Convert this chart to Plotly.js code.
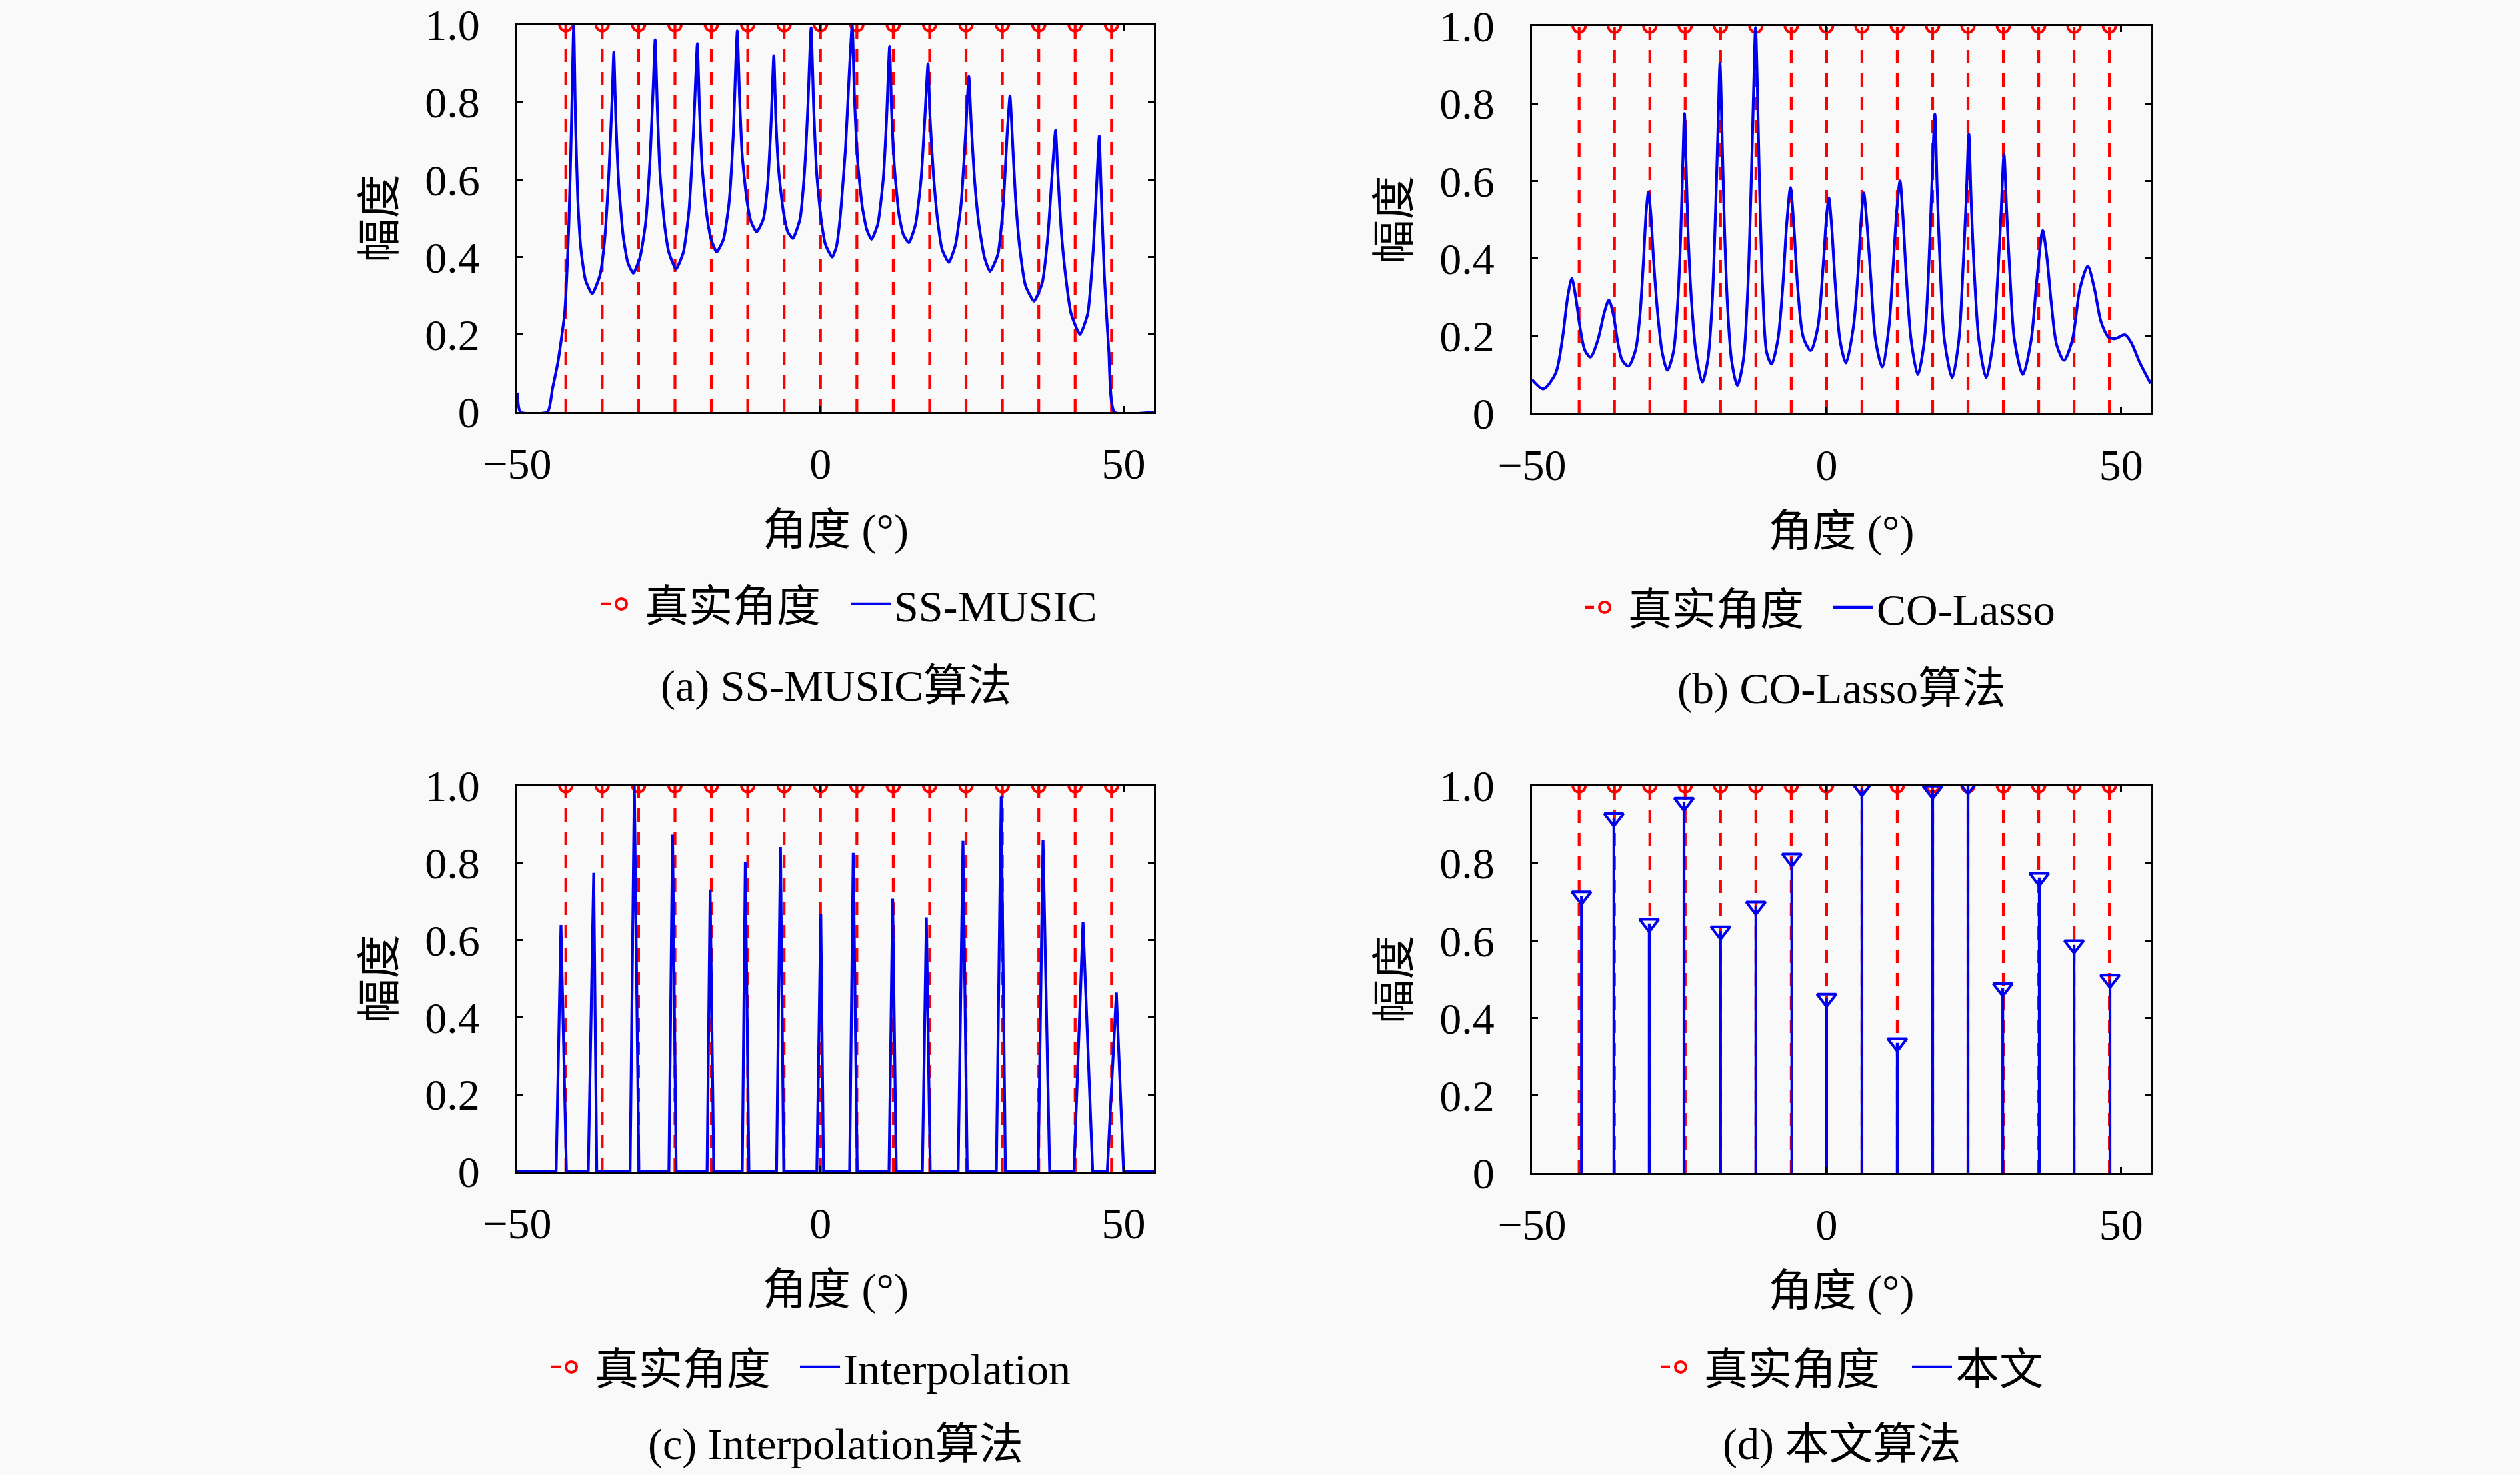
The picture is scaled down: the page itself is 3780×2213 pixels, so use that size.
<!DOCTYPE html>
<html>
<head>
<meta charset="utf-8">
<script src="https://cdn.plot.ly/plotly-3.0.1.min.js"></script>
<style>
  html, body { margin: 0; padding: 0; background: #f9f9f9; }
  #graph { width: 3780px; height: 2213px; }
</style>
</head>
<body>
<div id="graph"></div>
<script>
// true source directions (deg)
var trueAngles = [-42, -36, -30, -24, -18, -12, -6, 0, 6, 12, 18, 24, 30, 36, 42, 48];

// (a) SS-MUSIC spectrum
var musicX = [-50, -49.5, -45, -44.2, -43.3, -42.2, -41.5, -41.06, -40.7, -40.4, -40.03, -39.5, -38.75, -37.65,
  -36.37, -35.63, -34.9, -34.35, -34.09, -33.73, -33.25, -32.52, -31.78, -30.87,
  -29.77, -28.86, -28.12, -27.57, -27.27, -26.9, -26.47, -25.73, -25.0, -23.83,
  -22.62, -21.7, -20.97, -20.53, -20.31, -19.95, -19.5, -18.77, -18.04, -17.12,
  -16.0, -15.1, -14.38, -13.94, -13.72, -13.35, -12.91, -12.18, -11.45, -10.53,
  -9.43, -8.7, -8.14, -7.7, -7.34, -6.86, -6.13, -5.39, -4.55,
  -3.38, -2.65, -2.1, -1.55, -1.11, -0.63, 0.1, 0.83, 1.93,
  2.6, 3.22, 4.13, 4.76, 5.23, 5.6, 6.15, 6.88, 7.61, 8.42,
  9.45, 10.36, 10.91, 11.39, 11.72, 12.2, 12.93, 13.66, 14.58,
  15.68, 16.6, 17.22, 17.73, 18.06, 18.61, 19.35, 20.07, 21.17,
  22.27, 23.19, 23.92, 24.47, 24.84, 25.39, 26.12, 27.04, 27.96,
  29.24, 30.15, 30.78, 31.25, 31.62, 32.17, 32.9, 33.82, 35.21,
  36.57, 37.49, 38.22, 38.77, 39.14, 39.69, 40.42, 41.33, 42.8,
  44.08, 44.99, 45.54, 45.98, 46.27, 46.82, 47.56, 48.48, 55];
var musicY = [0.05, 0, 0, 0.06, 0.129, 0.254, 0.485, 0.749, 1.0, 0.749, 0.551, 0.419, 0.340, 0.305,
  0.353, 0.439, 0.617, 0.814, 0.928, 0.748, 0.583, 0.452, 0.386, 0.358,
  0.399, 0.485, 0.649, 0.847, 0.961, 0.781, 0.617, 0.485, 0.412, 0.369,
  0.412, 0.518, 0.716, 0.880, 0.951, 0.781, 0.630, 0.511, 0.446, 0.413,
  0.446, 0.537, 0.716, 0.913, 0.984, 0.814, 0.663, 0.551, 0.491, 0.465,
  0.498, 0.590, 0.749, 0.920, 0.749, 0.617, 0.518, 0.465, 0.448,
  0.498, 0.617, 0.781, 0.992, 0.781, 0.617, 0.498, 0.432, 0.400,
  0.425, 0.498, 0.682, 0.880, 1.0, 0.814, 0.643, 0.531, 0.472, 0.446,
  0.485, 0.603, 0.762, 0.943, 0.781, 0.630, 0.511, 0.458, 0.437,
  0.485, 0.603, 0.762, 0.899, 0.762, 0.617, 0.491, 0.419, 0.386,
  0.432, 0.537, 0.716, 0.866, 0.749, 0.603, 0.485, 0.399, 0.363,
  0.406, 0.537, 0.716, 0.816, 0.716, 0.551, 0.419, 0.326, 0.286,
  0.333, 0.452, 0.617, 0.727, 0.617, 0.472, 0.353, 0.254, 0.200,
  0.254, 0.419, 0.583, 0.712, 0.583, 0.353, 0.155, 0, 0];

// (b) CO-Lasso spectrum
var lassoX = [-50, -48.08, -46.0, -44.87, -43.93, -43.25, -42.6, -41.85, -41.03, -40.08,
  -38.83, -37.7, -36.95, -36.2, -35.44, -34.69, -33.63,
  -32.43, -31.67, -31.1, -30.62, -30.24, -29.86, -29.33, -28.65, -27.9, -27.03,
  -26.01, -25.26, -24.77, -24.39, -24.12, -23.86, -23.48, -22.92, -22.17, -21.1,
  -20.16, -19.41, -18.85, -18.4, -18.09, -17.79, -17.41, -16.85, -16.13, -15.15,
  -14.13, -13.37, -12.81, -12.36, -12.06, -11.76, -11.38, -10.85, -10.17, -9.34,
  -8.28, -7.46, -6.78, -6.13, -5.57, -4.89, -3.95, -2.7,
  -1.49, -0.55, 0.01, 0.39, 0.84, 1.52, 2.27, 3.28,
  4.54, 5.3, 5.86, 6.31, 6.8, 7.48, 8.31, 9.44,
  10.57, 11.33, 11.89, 12.46, 12.91, 13.52, 14.35, 15.48,
  16.61, 17.37, 17.86, 18.38, 18.76, 19.25, 20.0, 21.32,
  22.45, 23.2, 23.7, 24.15, 24.53, 25.1, 25.85, 27.09,
  28.3, 29.06, 29.62, 30.11, 30.57, 31.13, 31.89, 33.31,
  34.72, 35.66, 36.68, 37.36, 38.12, 39.06, 40.3,
  41.7, 43.0, 44.33, 45.46, 46.59, 47.91, 49.04, 50.62, 51.69, 53.19, 55];
var lassoY = [0.087, 0.063, 0.103, 0.189, 0.302, 0.348, 0.302, 0.222, 0.163, 0.145,
  0.189, 0.262, 0.292, 0.255, 0.183, 0.137, 0.122,
  0.163, 0.255, 0.388, 0.520, 0.571, 0.520, 0.388, 0.255, 0.157, 0.111,
  0.157, 0.288, 0.454, 0.652, 0.774, 0.652, 0.454, 0.288, 0.157, 0.080,
  0.137, 0.288, 0.520, 0.751, 0.903, 0.751, 0.520, 0.288, 0.137, 0.072,
  0.137, 0.322, 0.586, 0.850, 0.996, 0.850, 0.586, 0.322, 0.157, 0.127,
  0.189, 0.322, 0.487, 0.583, 0.487, 0.322, 0.196, 0.162,
  0.222, 0.388, 0.513, 0.556, 0.487, 0.322, 0.189, 0.130,
  0.222, 0.355, 0.500, 0.569, 0.500, 0.355, 0.189, 0.120,
  0.222, 0.388, 0.520, 0.600, 0.520, 0.355, 0.189, 0.100,
  0.189, 0.388, 0.586, 0.772, 0.586, 0.388, 0.189, 0.092,
  0.189, 0.388, 0.553, 0.721, 0.553, 0.355, 0.189, 0.092,
  0.189, 0.355, 0.520, 0.668, 0.520, 0.355, 0.189, 0.100,
  0.189, 0.341, 0.472, 0.407, 0.288, 0.176, 0.137,
  0.189, 0.322, 0.380, 0.322, 0.236, 0.196, 0.193, 0.203, 0.183, 0.130, 0.077];

// (c) Interpolation spectrum: narrow spikes on a zero floor
var interpX = [-50, -43.6, -42.8, -41.9, -38.3, -37.4, -36.9, -31.4, -30.7, -29.95,
  -25.0, -24.4, -23.8, -18.7, -18.2, -17.6, -12.9, -12.4, -11.8, -7.25, -6.6, -6.06,
  -0.6, 0.05, 0.5, 4.8, 5.4, 6.06, 11.3, 11.9, 12.5, 16.8, 17.46, 18.1,
  22.7, 23.5, 24.2, 29.0, 29.8, 30.5, 35.9, 36.7, 37.8, 41.8, 43.3, 44.9,
  47.3, 48.8, 50.0, 55];
var interpY = [0, 0, 0.639, 0, 0, 0.774, 0, 0, 1.0, 0,
  0, 0.873, 0, 0, 0.731, 0, 0, 0.802, 0, 0, 0.841, 0,
  0, 0.667, 0, 0, 0.826, 0, 0, 0.707, 0, 0, 0.659, 0,
  0, 0.857, 0, 0, 0.972, 0, 0, 0.860, 0, 0, 0.647, 0,
  0, 0.464, 0, 0];

// (d) proposed method: estimated angles and amplitudes
var oursX = [-41.6, -36.1, -30.1, -24.2, -18, -12, -5.9, 0, 6, 12, 18, 24, 29.9, 36.1, 42, 48.1];
var oursY = [0.715, 0.917, 0.644, 0.957, 0.625, 0.689, 0.813, 0.451, 0.995, 0.336, 0.988, 1.0, 0.478, 0.763, 0.589, 0.500];

var yTicks = [0, 0.2, 0.4, 0.6, 0.8, 1.0];
var yTickText = ['0', '0.2', '0.4', '0.6', '0.8', '1.0'];
var xTicks = [-50, 0, 50];

var W = 3780, H = 2213;
var FONT = 'Liberation Serif, Noto Sans CJK SC, serif';
var RED = '#ff0000', BLUE = '#0000ee';
var LW = 4.2;

// stem helper: x,x,null pairs
function stemXY(xs, ys){
    var sx = [], sy = [];
    for(let i = 0;i < xs.length;i++){
        sx.push(xs[i], xs[i], null);
        sy.push(0, ys[i], null);
    }
    return {x: sx, y: sy};
}

function trueTraces(n, legId){
    var ones = trueAngles.map(function(){ return 1; });
    var st = stemXY(trueAngles, ones);
    // isolated points so the legend shows dash + circle but nothing joins them
    var px = [], py = [];
    for(let i = 0;i < trueAngles.length;i++){ px.push(trueAngles[i], null); py.push(1, null); }
    var sfx = n == 1 ? '' : n;
    return [
        {x: st.x, y: st.y, xaxis: 'x' + sfx, yaxis: 'y' + sfx, mode: 'lines', showlegend: false,
         line: {color: RED, width: LW, dash: '20px,15px'}, hoverinfo: 'skip'},
        {x: px, y: py, xaxis: 'x' + sfx, yaxis: 'y' + sfx, mode: 'lines+markers', name: '真实角度',
         legend: legId, connectgaps: false,
         line: {color: RED, width: LW, dash: '14px,50px'},
         marker: {symbol: 'circle-open', size: 19, color: RED, line: {width: 4, color: RED}}}
    ];
}

var data = [];
data = data.concat(trueTraces(1, 'legend'));
data.push({x: musicX, y: musicY, xaxis: 'x', yaxis: 'y', mode: 'lines', name: 'SS-MUSIC', legend: 'legend5',
    line: {color: BLUE, width: LW, shape: 'spline', smoothing: 0.5}});

data = data.concat(trueTraces(2, 'legend2'));
data.push({x: lassoX, y: lassoY, xaxis: 'x2', yaxis: 'y2', mode: 'lines', name: 'CO-Lasso', legend: 'legend6',
    line: {color: BLUE, width: LW, shape: 'spline', smoothing: 0.8}});

data = data.concat(trueTraces(3, 'legend3'));
data.push({x: interpX, y: interpY, xaxis: 'x3', yaxis: 'y3', mode: 'lines', name: 'Interpolation', legend: 'legend7',
    line: {color: BLUE, width: LW}});

data = data.concat(trueTraces(4, 'legend4'));
var os = stemXY(oursX, oursY);
data.push({x: os.x, y: os.y, xaxis: 'x4', yaxis: 'y4', mode: 'lines', name: '本文', legend: 'legend8',
    line: {color: BLUE, width: LW}});
data.push({x: oursX, y: oursY, xaxis: 'x4', yaxis: 'y4', mode: 'markers', showlegend: false,
    marker: {symbol: 'triangle-down-open', size: 25, color: BLUE, line: {width: 4, color: BLUE}}});

// plot boxes in pixels: left, right, top, bottom
var boxes = [[776, 1731, 37, 618], [2298, 3226, 39, 620], [776, 1731, 1179, 1758], [2298, 3226, 1179, 1760]];

function xAxis(b, yid){
    return {domain: [b[0] / W, b[1] / W], anchor: yid, range: [-50, 55],
        tickvals: xTicks, ticks: 'inside', ticklen: 9, tickwidth: 3, tickcolor: '#000',
        showline: true, linewidth: 3, linecolor: '#000', mirror: 'ticks',
        showgrid: false, zeroline: false, ticklabelstandoff: 18,
        tickfont: {family: FONT, size: 66, color: '#000'},
        title: {text: '角度 (°)', standoff: 40, font: {family: FONT, size: 66, color: '#000'}}};
}
function yAxis(b, xid){
    return {domain: [1 - b[3] / H, 1 - b[2] / H], anchor: xid, range: [0, 1],
        tickvals: yTicks, ticktext: yTickText, ticks: 'inside', ticklen: 9, tickwidth: 3, tickcolor: '#000',
        showline: true, linewidth: 3, linecolor: '#000', mirror: 'ticks',
        showgrid: false, zeroline: false, ticklabelstandoff: 40,
        tickfont: {family: FONT, size: 66, color: '#000'},
        title: {text: '幅度', standoff: 24, font: {family: FONT, size: 66, color: '#000'}}};
}

// one legend box per entry; textX = where the label text starts (px)
var ITEMW = 60;
function legendAt(textX, cy){
    return {orientation: 'h', x: (textX - ITEMW - 15) / W, y: 1 - cy / H, xanchor: 'left', yanchor: 'middle',
        bgcolor: 'rgba(0,0,0,0)', itemwidth: ITEMW,
        font: {family: FONT, size: 66, color: '#000'}};
}

var subTitles = ['(a) SS-MUSIC算法', '(b) CO-Lasso算法', '(c) Interpolation算法', '(d) 本文算法'];
var subY = [1029, 1033, 2167, 2167];
var annotations = [];
for(let i = 0;i < 4;i++){
    annotations.push({text: subTitles[i], xref: 'paper', yref: 'paper', showarrow: false,
        x: (boxes[i][0] + boxes[i][1]) / 2 / W, y: 1 - subY[i] / H, xanchor: 'center', yanchor: 'middle',
        font: {family: FONT, size: 66, color: '#000'}});
}

var layout = {
    width: W, height: H, margin: {l: 0, r: 0, t: 0, b: 0},
    paper_bgcolor: '#f9f9f9', plot_bgcolor: '#f9f9f9',
    xaxis: xAxis(boxes[0], 'y'), yaxis: yAxis(boxes[0], 'x'),
    xaxis2: xAxis(boxes[1], 'y2'), yaxis2: yAxis(boxes[1], 'x2'),
    xaxis3: xAxis(boxes[2], 'y3'), yaxis3: yAxis(boxes[2], 'x3'),
    xaxis4: xAxis(boxes[3], 'y4'), yaxis4: yAxis(boxes[3], 'x4'),
    legend: legendAt(972, 906),
    legend5: legendAt(1346, 906),
    legend2: legendAt(2447, 911),
    legend6: legendAt(2820, 911),
    legend3: legendAt(897, 2051),
    legend7: legendAt(1270, 2051),
    legend4: legendAt(2561, 2051),
    legend8: legendAt(2938, 2051),
    annotations: annotations
};

Plotly.newPlot('graph', data, layout, {staticPlot: true});
</script>
</body>
</html>
